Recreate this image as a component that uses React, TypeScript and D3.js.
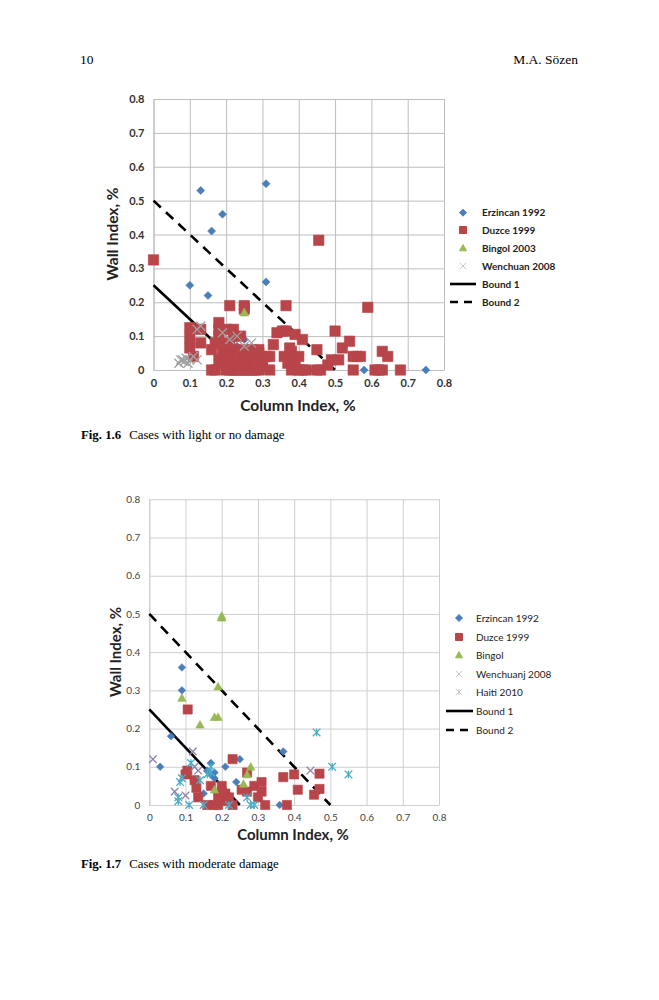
import { useEffect, useRef } from "react";
import * as d3 from "d3";

type Pt = [number, number];

// ---- Fig 1.6: light or no damage ----
const lightErzincan: Pt[] = [
  [0.13, 0.53], [0.31, 0.55], [0.19, 0.46], [0.16, 0.41], [0.10, 0.25], [0.15, 0.22],
  [0.31, 0.26], [0.43, 0.0], [0.58, 0.0], [0.75, 0.0], [0.21, 0.08], [0.23, 0.07],
  [0.25, 0.09], [0.22, 0.05], [0.19, 0.075],
];
const lightDuzce: Pt[] = [
  [0.0, 0.325], [0.455, 0.383], [0.59, 0.185], [0.365, 0.19], [0.21, 0.19], [0.25, 0.18],
  [0.25, 0.19], [0.10, 0.125], [0.10, 0.095], [0.10, 0.065], [0.11, 0.04], [0.13, 0.12],
  [0.13, 0.08], [0.18, 0.14], [0.18, 0.12], [0.18, 0.10], [0.17, 0.08], [0.16, 0.06],
  [0.16, 0.0], [0.17, 0.0], [0.20, 0.12], [0.22, 0.12], [0.22, 0.10], [0.24, 0.10],
  [0.19, 0.06], [0.20, 0.05], [0.21, 0.04], [0.22, 0.03], [0.23, 0.02], [0.24, 0.01],
  [0.25, 0.0], [0.26, 0.03], [0.27, 0.02], [0.28, 0.04], [0.29, 0.05], [0.30, 0.03],
  [0.31, 0.04], [0.20, 0.0], [0.21, 0.0], [0.22, 0.0], [0.23, 0.0], [0.24, 0.0],
  [0.26, 0.0], [0.27, 0.0], [0.28, 0.0], [0.29, 0.0], [0.19, 0.02], [0.18, 0.03],
  [0.20, 0.03], [0.22, 0.06], [0.24, 0.05], [0.25, 0.06], [0.26, 0.05], [0.27, 0.06],
  [0.21, 0.07], [0.19, 0.08], [0.23, 0.04], [0.25, 0.03], [0.28, 0.02], [0.30, 0.01],
  [0.32, 0.04], [0.32, 0.0], [0.29, 0.06], [0.33, 0.075], [0.34, 0.11], [0.355, 0.115],
  [0.365, 0.115], [0.39, 0.105], [0.41, 0.09], [0.375, 0.065], [0.38, 0.055], [0.37, 0.02],
  [0.36, 0.04], [0.38, 0.03], [0.39, 0.01], [0.40, 0.04], [0.41, 0.0], [0.38, 0.0],
  [0.40, 0.0], [0.42, 0.0], [0.45, 0.06], [0.45, 0.0], [0.46, 0.0], [0.48, 0.015],
  [0.49, 0.03], [0.50, 0.115], [0.51, 0.03], [0.52, 0.065], [0.54, 0.085], [0.55, 0.04],
  [0.56, 0.04], [0.57, 0.04], [0.55, 0.0], [0.61, 0.0], [0.62, 0.0], [0.63, 0.0],
  [0.63, 0.055], [0.645, 0.04], [0.68, 0.0],
];
const lightBingol: Pt[] = [[0.25, 0.17]];
const lightWenchuan: Pt[] = [
  [0.07, 0.02], [0.08, 0.03], [0.085, 0.025], [0.09, 0.035], [0.10, 0.03], [0.11, 0.04],
  [0.12, 0.03], [0.13, 0.13], [0.12, 0.12], [0.21, 0.09], [0.25, 0.07], [0.27, 0.08],
  [0.19, 0.11], [0.23, 0.10], [0.075, 0.03], [0.095, 0.02],
];

// ---- Fig 1.7: moderate damage ----
const modErzincan: Pt[] = [
  [0.09, 0.36], [0.09, 0.30], [0.06, 0.18], [0.03, 0.10], [0.21, 0.10], [0.25, 0.12],
  [0.24, 0.06], [0.17, 0.11], [0.16, 0.09], [0.18, 0.085], [0.17, 0.08], [0.18, 0.07],
  [0.36, 0.0], [0.37, 0.14], [0.467, 0.04], [0.15, 0.03],
];
const modDuzce: Pt[] = [
  [0.106, 0.25], [0.10, 0.08], [0.105, 0.09], [0.125, 0.065], [0.13, 0.045], [0.135, 0.02],
  [0.17, 0.05], [0.20, 0.05], [0.23, 0.12], [0.27, 0.085], [0.27, 0.035], [0.29, 0.05],
  [0.31, 0.06], [0.31, 0.035], [0.30, 0.02], [0.32, 0.0], [0.37, 0.073], [0.40, 0.08],
  [0.41, 0.04], [0.38, 0.0], [0.47, 0.082], [0.47, 0.042], [0.455, 0.027], [0.18, 0.0],
  [0.19, 0.0], [0.21, 0.01], [0.21, 0.03], [0.22, 0.02], [0.19, 0.02], [0.16, 0.0],
  [0.23, 0.0], [0.20, 0.035], [0.255, 0.04],
];
const modBingol: Pt[] = [
  [0.20, 0.495], [0.20, 0.49], [0.19, 0.31], [0.09, 0.28], [0.18, 0.23], [0.19, 0.23],
  [0.14, 0.21], [0.28, 0.10], [0.27, 0.08], [0.26, 0.055], [0.18, 0.04],
];
const modWenchuan: Pt[] = [
  [0.01, 0.12], [0.12, 0.14], [0.07, 0.035], [0.10, 0.025], [0.135, 0.09], [0.125, 0.10],
  [0.445, 0.09],
];
const modHaiti: Pt[] = [
  [0.462, 0.19], [0.505, 0.10], [0.55, 0.08], [0.085, 0.06], [0.08, 0.01], [0.11, 0.0],
  [0.08, 0.02], [0.28, 0.0], [0.27, 0.02], [0.15, 0.0], [0.17, 0.10], [0.115, 0.11],
  [0.14, 0.065], [0.22, 0.0], [0.29, 0.0], [0.17, 0.085], [0.16, 0.08], [0.09, 0.07],
];

const boundOne: Pt[] = [[0, 0.25], [0.25, 0]];
const boundTwo: Pt[] = [[0, 0.5], [0.5, 0]];
const tickValues = [0, 0.1, 0.2, 0.3, 0.4, 0.5, 0.6, 0.7, 0.8];

type Kind = "diamond" | "square" | "triangle" | "cross" | "star";
type Series = { label: string; kind: Kind; color: string; data: Pt[] };

const markerPath = (kind: Kind, s: number) => {
  switch (kind) {
    case "diamond":
      return `M0,${-s}L${s},0L0,${s}L${-s},0Z`;
    case "square":
      return `M${-s},${-s}H${s}V${s}H${-s}Z`;
    case "triangle":
      return `M0,${-s}L${s},${s * 0.8}L${-s},${s * 0.8}Z`;
    case "cross":
      return `M${-s},${-s}L${s},${s}M${s},${-s}L${-s},${s}`;
    case "star":
      return `M${-s},${-s}L${s},${s}M${s},${-s}L${-s},${s}M0,${-s}V${s}`;
  }
};

type ChartCfg = {
  x0: number; x1: number; y0: number; y1: number;
  series: Series[];
  sizes: Record<Kind, number>;
  tickBold: boolean; tickSize: number; tickColor: string; gridColor: string;
  titleSize: number; xTitle: [number, number]; yTitle: [number, number];
  legendX: number; legendTextX: number; legendY: number[]; legendBold: boolean;
  lineX: [number, number]; dash: string;
};

const font = "Lato, 'Open Sans', sans-serif";

function drawChart(svg: d3.Selection<SVGSVGElement, unknown, null, undefined>, c: ChartCfg) {
  const x = d3.scaleLinear().domain([0, 0.8]).range([c.x0, c.x1]);
  const y = d3.scaleLinear().domain([0, 0.8]).range([c.y0, c.y1]);
  const g = svg.append("g");

  const style = (a: d3.Selection<SVGGElement, unknown, null, undefined>) => {
    a.select(".domain").attr("stroke", c.gridColor);
    a.selectAll(".tick line").attr("stroke", c.gridColor);
    a.selectAll("text")
      .attr("fill", c.tickColor)
      .attr("font-size", c.tickSize)
      .attr("font-family", font)
      .attr("font-weight", c.tickBold ? 700 : 400);
  };
  const fmt = (d: d3.NumberValue) => String(+(+d).toFixed(1));

  g.append("g")
    .attr("transform", `translate(0,${c.y0})`)
    .call(d3.axisBottom(x).tickValues(tickValues).tickFormat(fmt).tickSize(-(c.y0 - c.y1)).tickSizeOuter(0).tickPadding(9))
    .call(style);
  g.append("g")
    .attr("transform", `translate(${c.x0},0)`)
    .call(d3.axisLeft(y).tickValues(tickValues).tickFormat(fmt).tickSize(-(c.x1 - c.x0)).tickSizeOuter(0).tickPadding(9))
    .call(style);

  const line = d3.line<Pt>().x((d) => x(d[0])).y((d) => y(d[1]));
  g.append("path").datum(boundOne).attr("d", line).attr("fill", "none").attr("stroke", "#000").attr("stroke-width", 2.6);
  g.append("path").datum(boundTwo).attr("d", line).attr("fill", "none").attr("stroke", "#000").attr("stroke-width", 2.6).attr("stroke-dasharray", c.dash);

  c.series.forEach((s) => {
    const filled = s.kind !== "cross" && s.kind !== "star";
    g.append("g")
      .selectAll("path")
      .data(s.data)
      .join("path")
      .attr("transform", (d) => `translate(${x(d[0])},${y(d[1])})`)
      .attr("d", markerPath(s.kind, c.sizes[s.kind]))
      .attr("fill", filled ? s.color : "none")
      .attr("stroke", s.color)
      .attr("stroke-width", filled ? 0.6 : 1.3);
  });

  g.append("text")
    .attr("x", c.xTitle[0]).attr("y", c.xTitle[1])
    .attr("text-anchor", "middle").attr("font-family", font).attr("font-weight", 700)
    .attr("font-size", c.titleSize).attr("fill", "#222").text("Column Index, %");
  g.append("text")
    .attr("transform", `translate(${c.yTitle[0]},${c.yTitle[1]}) rotate(-90)`)
    .attr("text-anchor", "middle").attr("font-family", font).attr("font-weight", 700)
    .attr("font-size", c.titleSize).attr("fill", "#222").text("Wall Index, %");

  const leg = g.append("g");
  c.series.forEach((s, i) => {
    const filled = s.kind !== "cross" && s.kind !== "star";
    const ly = c.legendY[i];
    leg.append("path")
      .attr("transform", `translate(${c.legendX},${ly})`)
      .attr("d", markerPath(s.kind, filled ? 3.5 : 3.2))
      .attr("fill", filled ? s.color : "none")
      .attr("stroke", filled ? s.color : "#c8c8c8")
      .attr("stroke-width", 1);
    leg.append("text")
      .attr("x", c.legendTextX).attr("y", ly).attr("dy", "0.35em")
      .attr("font-family", font).attr("font-size", 10)
      .attr("font-weight", c.legendBold ? 700 : 400).attr("fill", "#222").text(s.label);
  });
  ["Bound 1", "Bound 2"].forEach((lab, j) => {
    const ly = c.legendY[c.series.length + j];
    leg.append("line")
      .attr("x1", c.lineX[0]).attr("x2", c.lineX[1]).attr("y1", ly).attr("y2", ly)
      .attr("stroke", "#000").attr("stroke-width", 2.6)
      .attr("stroke-dasharray", j === 1 ? "8,6" : null);
    leg.append("text")
      .attr("x", c.legendTextX).attr("y", ly).attr("dy", "0.35em")
      .attr("font-family", font).attr("font-size", 10)
      .attr("font-weight", c.legendBold ? 700 : 400).attr("fill", "#222").text(lab);
  });
}

const App = () => {
  const svgRef = useRef<SVGSVGElement | null>(null);

  useEffect(() => {
    if (!svgRef.current) return;
    const svg = d3.select(svgRef.current);
    svg.selectAll("*").remove();

    const serif = "'Liberation Serif', 'DejaVu Serif', serif";
    svg.append("text").attr("x", 80).attr("y", 64).attr("font-family", serif).attr("font-size", 13.5).text("10");
    svg.append("text").attr("x", 578).attr("y", 64).attr("text-anchor", "end").attr("font-family", serif).attr("font-size", 13.5).text("M.A. Sözen");

    const caption = (yy: number, num: string, txt: string) => {
      const t = svg.append("text").attr("x", 81).attr("y", yy).attr("font-family", serif).attr("font-size", 12.8);
      t.append("tspan").attr("font-weight", 700).text(num);
      t.append("tspan").attr("dx", 8).text(txt);
    };
    caption(439, "Fig. 1.6", "Cases with light or no damage");
    caption(868, "Fig. 1.7", "Cases with moderate damage");

    drawChart(svg, {
      x0: 153.5, x1: 444, y0: 370, y1: 99,
      series: [
        { label: "Erzincan 1992", kind: "diamond", color: "#4a7ebb", data: lightErzincan },
        { label: "Duzce 1999", kind: "square", color: "#b8454a", data: lightDuzce },
        { label: "Bingol 2003", kind: "triangle", color: "#98b954", data: lightBingol },
        { label: "Wenchuan 2008", kind: "cross", color: "#a0a0a0", data: lightWenchuan },
      ],
      sizes: { diamond: 4, square: 5.2, triangle: 4.5, cross: 4.5, star: 4 },
      tickBold: true, tickSize: 11, tickColor: "#333", gridColor: "#bdbdbd",
      titleSize: 15.5, xTitle: [298, 411], yTitle: [118, 234],
      legendX: 463, legendTextX: 482, legendY: [212.7, 230, 248, 266, 284, 302], legendBold: true,
      lineX: [450, 476], dash: "10,7",
    });

    drawChart(svg, {
      x0: 149.3, x1: 439, y0: 805, y1: 499.3,
      series: [
        { label: "Erzincan 1992", kind: "diamond", color: "#4a7ebb", data: modErzincan },
        { label: "Duzce 1999", kind: "square", color: "#b8454a", data: modDuzce },
        { label: "Bingol", kind: "triangle", color: "#98b954", data: modBingol },
        { label: "Wenchuanj 2008", kind: "cross", color: "#8f7fac", data: modWenchuan },
        { label: "Haiti 2010", kind: "star", color: "#4bacc6", data: modHaiti },
      ],
      sizes: { diamond: 3.8, square: 4.6, triangle: 4.2, cross: 3.8, star: 3.8 },
      tickBold: false, tickSize: 10, tickColor: "#444", gridColor: "#cfcfcf",
      titleSize: 15, xTitle: [293, 840], yTitle: [121, 652],
      legendX: 459, legendTextX: 476, legendY: [618, 637, 655, 674, 692, 711, 730], legendBold: false,
      lineX: [446, 473], dash: "10,7",
    });
  }, []);

  return (
    <svg
      ref={svgRef}
      width={659}
      height={1000}
      style={{ position: "absolute", left: 0, top: 0, background: "#fff" }}
    />
  );
};

export default App;
